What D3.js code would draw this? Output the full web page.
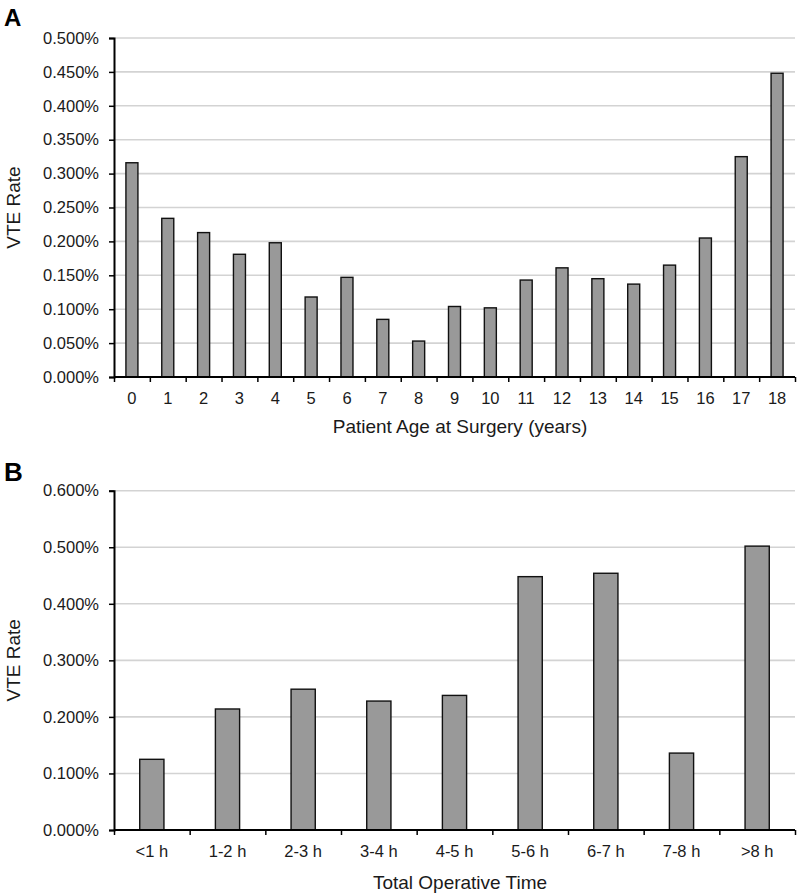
<!DOCTYPE html>
<html>
<head>
<meta charset="utf-8">
<script src="https://cdn.jsdelivr.net/npm/d3@7"></script>
<style>
  html, body { margin: 0; padding: 0; background: #fff; }
  svg { display: block; font-family: "Liberation Sans", Arial, Helvetica, sans-serif; }
</style>
</head>
<body>
<svg id="chart" width="800" height="894"></svg>
<script>
// ---- Data ----
const ageCategories = ["0","1","2","3","4","5","6","7","8","9","10","11","12","13","14","15","16","17","18"];
const ageRates = [0.316, 0.234, 0.213, 0.181, 0.198, 0.118, 0.147, 0.085, 0.053, 0.104, 0.102, 0.143, 0.161, 0.145, 0.137, 0.165, 0.205, 0.325, 0.448];
const ageTicks = [0, 0.05, 0.10, 0.15, 0.20, 0.25, 0.30, 0.35, 0.40, 0.45, 0.50];

const timeCategories = ["<1 h","1-2 h","2-3 h","3-4 h","4-5 h","5-6 h","6-7 h","7-8 h",">8 h"];
const timeRates = [0.125, 0.214, 0.249, 0.228, 0.238, 0.448, 0.454, 0.136, 0.502];
const timeTicks = [0, 0.1, 0.2, 0.3, 0.4, 0.5, 0.6];

const svg = d3.select("#chart");
const FONT = "'Liberation Sans', Arial, Helvetica, sans-serif";

function panel(opts) {
  const { cats, vals, ticks, yMax, top, bottom, left, right, barFrac, letter, letterY, letterSize, xTitle, xTitleY } = opts;
  const g = svg.append("g");
  const x = d3.scaleBand().domain(cats).range([left, right]).padding(0);
  const xb = d3.scaleLinear().domain([0, cats.length]).range([left, right]);
  const y = d3.scaleLinear().domain([0, yMax]).range([bottom, top]);

  // gridlines
  g.append("g").selectAll("line").data(ticks.filter(t => t > 0)).join("line")
    .attr("x1", left).attr("x2", right)
    .attr("y1", d => y(d)).attr("y2", d => y(d))
    .attr("stroke", "#d3d3d3").attr("stroke-width", 1.6);

  // bars
  const bw = x.bandwidth() * barFrac;
  g.append("g").selectAll("rect").data(vals).join("rect")
    .attr("x", (d, i) => x(cats[i]) + (x.bandwidth() - bw) / 2)
    .attr("y", d => y(d))
    .attr("width", bw)
    .attr("height", d => bottom - y(d))
    .attr("fill", "#999999")
    .attr("stroke", "#111")
    .attr("stroke-width", 1.4);

  // y axis
  const ya = g.append("g").attr("transform", `translate(${left},0)`)
    .call(d3.axisLeft(y).tickValues(ticks).tickSize(5).tickPadding(10)
      .tickFormat(d => d.toFixed(3) + "%"));
  ya.attr("font-size", null).attr("font-family", null);
  ya.select(".domain").attr("stroke", "#000").attr("stroke-width", 2);
  ya.selectAll(".tick line").attr("stroke", "#000").attr("stroke-width", 1.5);
  ya.selectAll("text").style("font-size", "16.5px").style("font-family", FONT).attr("fill", "#1a1a1a");

  // x axis boundary ticks
  const xt = g.append("g").attr("transform", `translate(0,${bottom})`)
    .call(d3.axisBottom(xb).tickValues(d3.range(cats.length + 1)).tickSize(5).tickFormat(""));
  xt.select(".domain").remove();
  xt.selectAll(".tick line").attr("stroke", "#000").attr("stroke-width", 1.5);

  // x axis labels
  const xa = g.append("g").attr("transform", `translate(0,${bottom})`)
    .call(d3.axisBottom(x).tickSize(0).tickPadding(15));
  xa.attr("font-size", null).attr("font-family", null);
  xa.select(".domain").attr("stroke", "#000").attr("stroke-width", 2)
    .attr("d", `M${left},0H${right}`);
  xa.selectAll("text").style("font-size", "16.5px").style("font-family", FONT).attr("fill", "#1a1a1a");

  // y title
  g.append("text")
    .attr("transform", `translate(20,${(top + bottom) / 2}) rotate(-90)`)
    .attr("text-anchor", "middle")
    .style("font-size", "19px").attr("fill", "#1a1a1a")
    .text("VTE Rate");

  // x title
  g.append("text")
    .attr("x", 460).attr("y", xTitleY)
    .attr("text-anchor", "middle")
    .style("font-size", "19px").attr("fill", "#1a1a1a")
    .text(xTitle);

  // panel letter
  g.append("text")
    .attr("x", 4).attr("y", letterY)
    .style("font-size", letterSize + "px").attr("font-weight", "bold").attr("fill", "#000")
    .text(letter);
}

panel({ cats: ageCategories, vals: ageRates, ticks: ageTicks, yMax: 0.5,
  top: 38, bottom: 377, left: 114, right: 795, barFrac: 0.335,
  letter: "A", letterY: 26, letterSize: 24,
  xTitle: "Patient Age at Surgery (years)", xTitleY: 433 });

panel({ cats: timeCategories, vals: timeRates, ticks: timeTicks, yMax: 0.6,
  top: 490.7, bottom: 830, left: 114, right: 795, barFrac: 0.32,
  letter: "B", letterY: 481, letterSize: 26,
  xTitle: "Total Operative Time", xTitleY: 889 });
</script>
</body>
</html>
